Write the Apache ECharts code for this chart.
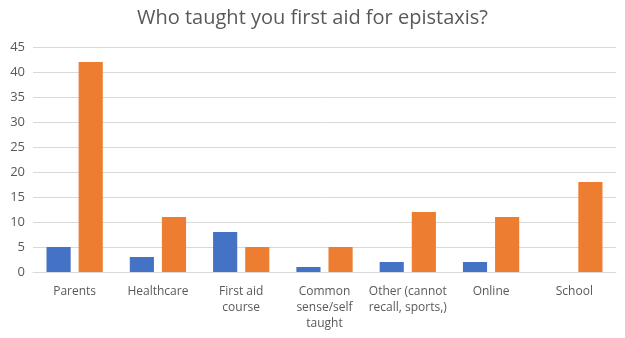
<!DOCTYPE html>
<html><head><meta charset="utf-8">
<script src="https://cdn.jsdelivr.net/npm/echarts@6/dist/echarts.min.js"></script>
<style>html,body{margin:0;padding:0;background:#fff}#c{width:625px;height:338px}</style>
</head><body><div id="c"></div>
<script>
const categories = ["Parents", "Healthcare", "First aid\ncourse", "Common\nsense/self\ntaught", "Other (cannot\nrecall, sports,)", "Online", "School"];
const seriesBlue = [5, 3, 8, 1, 2, 2, null];
const seriesOrange = [42, 11, 5, 5, 12, 11, 18];
const yTicks = {min: 0, max: 45, interval: 5};

const chart = echarts.init(document.getElementById('c'));
chart.setOption({
  animation: false,
  title: {text: 'Who taught you first aid for epistaxis?', left: 'center', top: 3,
    textStyle: {fontFamily: 'Open Sans', fontSize: 20, fontWeight: 'normal', color: '#595959'}},
  grid: {left: 33, right: 9, top: 47, bottom: 66},
  xAxis: {type: 'category', data: categories,
    axisLine: {lineStyle: {color: '#d9d9d9'}}, axisTick: {show: false},
    axisLabel: {interval: 0, color: '#595959', fontFamily: 'Open Sans', fontSize: 12, lineHeight: 16, margin: 12}},
  yAxis: {type: 'value', min: yTicks.min, max: yTicks.max, interval: yTicks.interval,
    axisLine: {show: false}, axisTick: {show: false},
    splitLine: {lineStyle: {color: '#d9d9d9'}},
    axisLabel: {color: '#595959', fontFamily: 'Open Sans', fontSize: 13, margin: 8}},
  series: [
    {type: 'bar', data: seriesBlue, barWidth: '29%', barGap: '33%', itemStyle: {color: '#4472C4'}},
    {type: 'bar', data: seriesOrange, barWidth: '29%', barGap: '33%', itemStyle: {color: '#ED7D31'}}
  ]
});
</script></body></html>
